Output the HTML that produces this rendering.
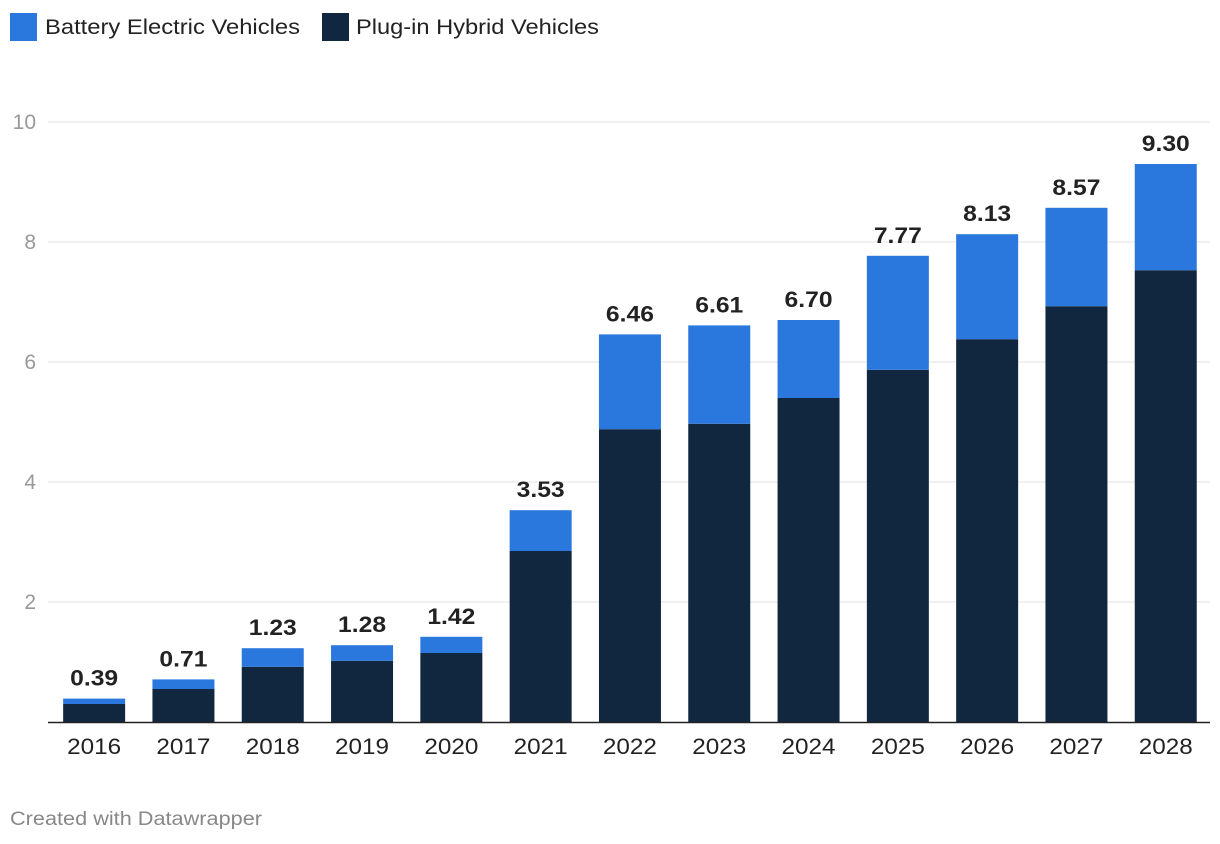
<!DOCTYPE html>
<html><head><meta charset="utf-8"><style>
body{margin:0;background:#fff;font-family:"Liberation Sans",Arial,sans-serif;}
svg{display:block}
</style></head><body>
<svg id="chart" width="1220" height="844">
<g>
<g><rect x="10" y="13" width="27" height="28" fill="#2a78de"/><text x="45" y="34" font-size="21" fill="#222" textLength="255" lengthAdjust="spacingAndGlyphs">Battery Electric Vehicles</text></g>
<g><rect x="322" y="13" width="27" height="28" fill="#11273f"/><text x="356" y="34" font-size="21" fill="#222" textLength="243" lengthAdjust="spacingAndGlyphs">Plug-in Hybrid Vehicles</text></g>
</g>
<g id="grid"></g>
<g id="bars"></g>
<g id="labels"></g>
<text x="10" y="825" font-size="19" fill="#888" textLength="252" lengthAdjust="spacingAndGlyphs">Created with Datawrapper</text>
</svg>
<script>
const years=["2016","2017","2018","2019","2020","2021","2022","2023","2024","2025","2026","2027","2028"];
const totals=[0.39,0.71,1.23,1.28,1.42,3.53,6.46,6.61,6.70,7.77,8.13,8.57,9.30];
const phev=[0.30,0.55,0.92,1.02,1.15,2.85,4.88,4.97,5.40,5.87,6.38,6.93,7.53];
const yTicks=[2,4,6,8,10];
const NS="http://www.w3.org/2000/svg";
const x0=49.5,step=89.3,barW=62,yBase=722,pxPer=60;
const y=v=>yBase-v*pxPer;
const xc=i=>x0+step*(i+0.5);
function mk(tag,attrs,parent,txt){const e=document.createElementNS(NS,tag);for(const k in attrs)e.setAttribute(k,attrs[k]);if(txt!==undefined)e.textContent=txt;parent.appendChild(e);return e;}
const grid=document.getElementById('grid'),bars=document.getElementById('bars'),labels=document.getElementById('labels');
yTicks.forEach(t=>{
 const l=mk('line',{x1:48,x2:1210,y1:y(t),y2:y(t),stroke:'#e3e3e3','stroke-width':1},grid);
 
 
 const tx=mk('text',{x:36,y:y(t)+7,'font-size':21,fill:'#999','text-anchor':'end'},grid,String(t));
 
 
});
years.forEach((yr,i)=>{
 const bev=totals[i]-phev[i];
 const r1=mk('rect',{x:xc(i)-barW/2,y:y(phev[i]),width:barW,height:phev[i]*pxPer,fill:'#11273f'},bars);
 
 
 const r2=mk('rect',{x:xc(i)-barW/2,y:y(totals[i]),width:barW,height:bev*pxPer,fill:'#2a78de'},bars);
 
 
 const v=mk('text',{x:xc(i),y:y(totals[i])-13,'font-size':22,'font-weight':'bold',fill:'#222','text-anchor':'middle',textLength:48,lengthAdjust:'spacingAndGlyphs'},labels,totals[i].toFixed(2));
 
 
 const xl=mk('text',{x:xc(i),y:754,'font-size':22,fill:'#222','text-anchor':'middle',textLength:54,lengthAdjust:'spacingAndGlyphs'},labels,yr);
 
 
});
const base=mk('line',{x1:48,x2:1210,y1:yBase+0.5,y2:yBase+0.5,stroke:'#222','stroke-width':1.5},labels);


</script>
</body></html>
